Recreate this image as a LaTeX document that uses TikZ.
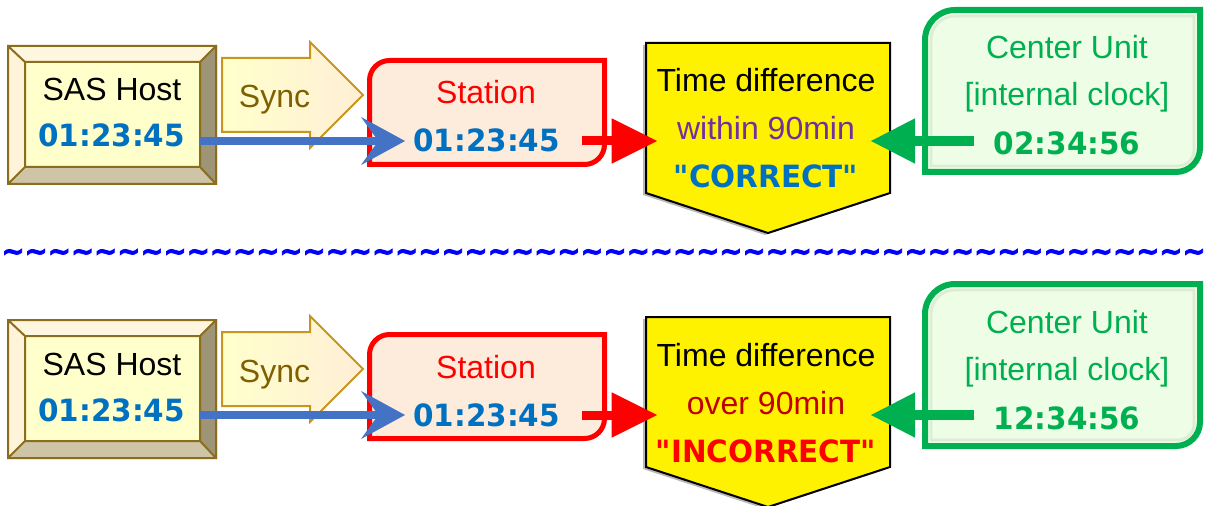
\documentclass[tikz,border=0pt]{standalone}
\usepackage{fontspec}
\setmainfont{Liberation Sans}
\newfontfamily\dvb{DejaVu Sans Bold}[FakeStretch=0.96]
\newfontfamily\dvt{DejaVu Sans Bold}[FakeBold=2.5]
\usetikzlibrary{arrows.meta,calc}
\definecolor{cBlueTxt}{HTML}{0070C0}
\definecolor{cBlueArr}{HTML}{4472C4}
\definecolor{cSyncTxt}{HTML}{7F6000}
\definecolor{cSyncLine}{HTML}{C8961E}
\definecolor{cSyncA}{HTML}{FFFFCC}
\definecolor{cSyncB}{HTML}{FFEFD6}
\definecolor{cSasLine}{HTML}{8B6D1E}
\definecolor{cSasIn}{HTML}{FFFFCC}
\definecolor{cBevT}{HTML}{FFF6E0}
\definecolor{cBevL}{HTML}{FFF3DA}
\definecolor{cBevR}{HTML}{9E9476}
\definecolor{cBevB}{HTML}{CEC4A6}
\definecolor{cStFill}{HTML}{FDEBDB}
\definecolor{cRed}{HTML}{FF0000}
\definecolor{cPurple}{HTML}{7030A0}
\definecolor{cDarkRed}{HTML}{C00000}
\definecolor{cGreen}{HTML}{00B050}
\definecolor{cCuFill}{HTML}{EEFDE6}
\definecolor{cCuIn}{HTML}{DCEDD4}
\definecolor{cWave}{HTML}{0000FF}
\tikzset{
  txt/.style={inner sep=0pt, anchor=base, font=\fontsize{24pt}{28pt}\selectfont},
  dig/.style={inner sep=0pt, anchor=base, font=\dvb\fontsize{23pt}{27pt}\selectfont},
  sasline/.style={draw=cSasLine, line width=1.5pt, line join=miter},
  syncarrow/.style={draw=cSyncLine, line width=1.5pt, left color=cSyncA, right color=cSyncB, line join=miter},
  stationbox/.style={draw=cRed, fill=cStFill, line width=3.75pt},
  yellowbox/.style={draw=black, fill=yellow, line width=1.5pt, line join=miter},
  cubox/.style={draw=cGreen, fill=cCuFill, line width=4.5pt},
  cuinner/.style={draw=cCuIn, line width=2pt},
  bluearr/.style={draw=cBlueArr, line width=6pt, -{Stealth[length=33pt, width=36pt, inset=13pt, line width=0pt]}},
  redarr/.style={draw=cRed, line width=6.75pt, -{Triangle[length=34pt, width=34pt, line width=0pt]}},
  greenarr/.style={draw=cGreen, line width=7.5pt, -{Triangle[length=33pt, width=34pt, line width=0pt]}},
  tildes/.style={inner sep=0pt, text=cWave}
}
\newcommand\diagrow[7]{%
\begin{scope}[shift={(0,#2)}]
  % SAS Host bevel box
  \fill[cBevT] (7,45) -- (217,45) -- (200,62) -- (25,62) -- cycle;
  \fill[cBevL] (7,45) -- (25,62) -- (25,167) -- (7,185) -- cycle;
  \fill[cBevR] (217,45) -- (217,185) -- (200,167) -- (200,62) -- cycle;
  \fill[cBevB] (7,185) -- (217,185) -- (200,167) -- (25,167) -- cycle;
  \fill[cSasIn] (25,62) rectangle (200,167);
  \draw[sasline] (8,46) rectangle (216,184) (25,62) rectangle (200,167)
     (8,46) -- (25,62) (216,46) -- (200,62) (216,184) -- (200,167) (8,184) -- (25,167);
  \node[txt] (sasT#1) at (112,101) {SAS Host};
  \node[dig, text=cBlueTxt] (sasD#1) at (111.5,147) {01:23:45};
  % Sync block arrow
  \draw[syncarrow] (222,58) -- (310,58) -- (310,42) -- (363,95) -- (310,148) -- (310,132) -- (222,132) -- cycle;
  \node[txt, text=cSyncTxt] (sync#1) at (274.5,108) {Sync};
  % Station
  \draw[stationbox] (369.5,164.5) -- (369.5,80.5) arc[start angle=180, end angle=90, radius=15pt]
     -- (604.5,60.5) -- (604.5,144.5) arc[start angle=0, end angle=-90, radius=15pt] -- cycle;
  \node[txt, text=cRed] (stT#1) at (486,104) {Station};
  \node[dig, text=cBlueTxt] (stD#1) at (486.5,152) {01:23:45};
  % Time difference pentagon
  \fill[black!28, shift={(-3,2)}] (646,43) -- (890,43) -- (890,193) -- (768,233) -- (646,193) -- cycle;
  \draw[yellowbox] (646,43) -- (890,43) -- (890,193) -- (768,233) -- (646,193) -- cycle;
  \coordinate (yl#1) at (657,141);
  \coordinate (yr#1) at (871,141);
  \node[txt] (ydT#1) at (766,92) {Time difference};
  \node[txt, text=#4] (ydM#1) at (766,140) {#3};
  \node[dig, text=#6] (ydV#1) at (766,188) {#5};
  % Center Unit
  \draw[cubox] (925,172) -- (925,40) arc[start angle=180, end angle=90, radius=22.5pt]
     -- (1200,10) -- (1200,148) arc[start angle=0, end angle=-90, radius=18pt] -- cycle;
  \draw[cuinner] (931,166) -- (931,40) arc[start angle=180, end angle=90, radius=18pt]
     -- (1194,16) -- (1194,150) arc[start angle=0, end angle=-90, radius=12pt] -- cycle;
  \node[txt, text=cGreen] (cuT#1) at (1067,59) {Center Unit};
  \node[txt, text=cGreen] (cuB#1) at (1067,106) {[internal clock]};
  \node[dig, text=cGreen] (cuD#1) at (1067,155) {#7};
  % connectors
  \draw[bluearr] ([xshift=10.5pt, yshift=4.5pt]sasD#1.base east) -- ([xshift=-6pt, yshift=8.25pt]stD#1.base west);
  \draw[redarr] ([xshift=16.5pt, yshift=8.25pt]stD#1.base east) -- (yl#1);
  \draw[greenarr] ([xshift=-15pt, yshift=10.5pt]cuD#1.base west) -- (yr#1);
\end{scope}}
\begin{document}
\begin{tikzpicture}[x=0.75pt, y=-0.75pt]
\useasboundingbox (0,0) rectangle (1207,506);
\clip (0,0) rectangle (1207,506);
\diagrow{a}{0}{within 90min}{cPurple}{"CORRECT"}{cBlueTxt}{02:34:56}
\diagrow{b}{274}{over 90min}{cDarkRed}{"INCORRECT"}{cRed}{12:34:56}
\node[tildes] (wave) at (603.5,255) {\resizebox{903pt}{9pt}{\dvt\detokenize{~~~~~~~~~~~~~~~~~~~~~~~~~~~~~~~~~~~~~~~~~~~~~~~~~~~~}}};
\end{tikzpicture}
\end{document}
